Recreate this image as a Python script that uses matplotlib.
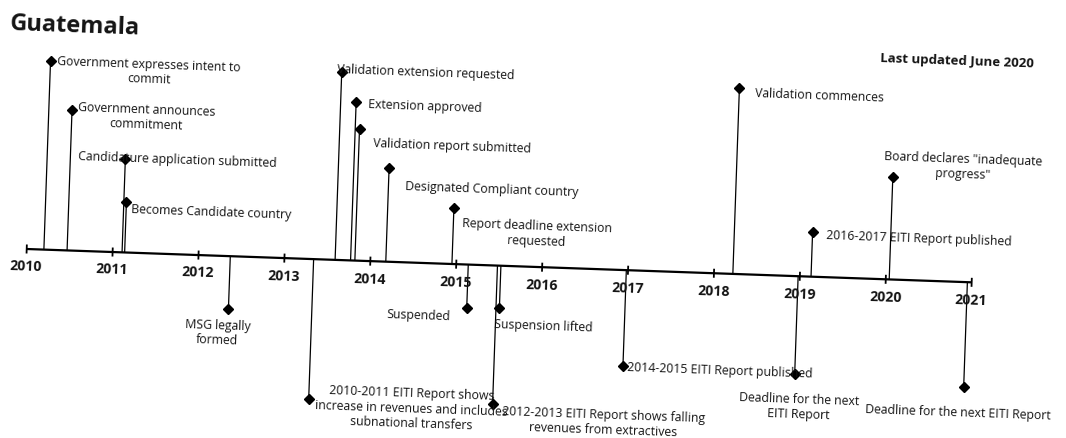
import matplotlib
matplotlib.use("Agg")
import matplotlib.pyplot as plt
from matplotlib.transforms import Affine2D

# event data: date (decimal year), stem height, label
dates = [2010.20, 2010.47, 2011.11, 2011.14, 2012.37, 2013.34, 2013.59, 2013.77,
         2013.82, 2014.18, 2014.95, 2015.14, 2015.52, 2015.48, 2016.98, 2018.22,
         2018.98, 2019.13, 2020.04, 2020.95]
heights = [189, 141, 93, 50, -53, -140, 188, 159,
           132, 94, 56, -43, -42, -138, -96, 186,
           -98, 45, 102, -105]
labels = [
    "Government expresses intent to\ncommit",
    "Government announces\ncommitment",
    "Candidature application submitted",
    "Becomes Candidate country",
    "MSG legally\nformed",
    "2010-2011 EITI Report shows\nincrease in revenues and includes\nsubnational transfers",
    "Validation extension requested",
    "Extension approved",
    "Validation report submitted",
    "Designated Compliant country",
    "Report deadline extension\nrequested",
    "Suspended",
    "Suspension lifted",
    "2012-2013 EITI Report shows falling\nrevenues from extractives",
    "2014-2015 EITI Report published",
    "Validation commences",
    "Deadline for the next\nEITI Report",
    "2016-2017 EITI Report published",
    "Board declares \"inadequate\nprogress\"",
    "Deadline for the next EITI Report",
]
years = list(range(2010, 2022))

# label placement relative to the marker (pixels: right, up) and alignment
offsets = [(7, 7), (6, 10), (-47, 2), (5, -6), (-10, -9), (7, -5), (-5, 3), (12, -2),
           (14, -13), (17, -17), (9, -22), (-16, -9), (-5, -16), (10, -14), (4, 0), (16, -4),
           (5, -32), (14, -2), (70, 14), (-5, -25)]
aligns = [("left", "top"), ("left", "top"), ("left", "center"), ("left", "center"),
          ("center", "top"), ("left", "center"), ("left", "center"), ("left", "center"),
          ("left", "center"), ("left", "center"), ("left", "center"), ("right", "center"),
          ("left", "center"), ("left", "center"), ("left", "center"), ("left", "center"),
          ("center", "center"), ("left", "center"), ("center", "center"), ("center", "center")]

W, H, DPI = 1066, 439, 100
px_year = 85.96
x_start, y_base = 26.7, 189.0   # pixel position of 2010 on the axis
tilt = -2.02                    # the scanned page is slightly rotated

fig = plt.figure(figsize=(W / DPI, H / DPI), dpi=DPI)
ax = fig.add_axes([0, 0, 1, 1])
x0 = 2010 - x_start / px_year
ax.set_xlim(x0, x0 + W / px_year)
ax.set_ylim(-y_base, H - y_base)
ax.axis("off")

rot = ax.transData + Affine2D().rotate_deg_around(x_start, y_base, tilt)
font = "Open Sans"
ink = "#141414"

# axis line, ticks, year labels
ax.plot([years[0], years[-1]], [0, 0], color="black", lw=1.6, transform=rot,
        solid_capstyle="butt")
ax.vlines(years, -4.5, 4.5, color="black", lw=1.3, transform=rot)
for y in years:
    ax.text(y, -17, str(y), ha="center", va="center", fontsize=10.2, fontweight="bold",
            family=font, color=ink, transform=rot, transform_rotates_text=True,
            rotation_mode="anchor")

# stems and markers
ax.vlines(dates, 0, heights, color="black", lw=0.9, transform=rot)
ax.plot(dates, heights, "D", color="black", ms=5.5, transform=rot, zorder=3)

for d, h, s, (ox, oy), (ha, va) in zip(dates, heights, labels, offsets, aligns):
    ax.text(d + ox / px_year, h + oy, s, ha=ha, va=va, multialignment="center",
            fontsize=8.8, family=font, color=ink, linespacing=1.2, transform=rot,
            transform_rotates_text=True, rotation_mode="anchor", zorder=4)

fig.text(10 / W, 1 - 24 / H, "Guatemala", ha="left", va="center", fontsize=17,
         fontweight="bold", family=font, color=ink, rotation=tilt, rotation_mode="anchor")
fig.text(957 / W, 1 - 61 / H, "Last updated June 2020", ha="center", va="center",
         fontsize=9.5, fontweight="bold", family=font, color=ink, rotation=tilt,
         rotation_mode="anchor")

fig.savefig("out.png", dpi=DPI, facecolor="white")
